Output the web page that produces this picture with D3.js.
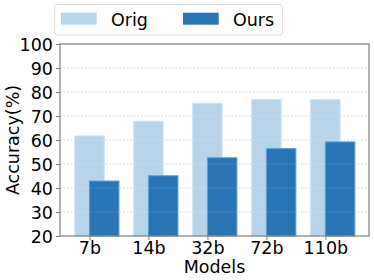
<!DOCTYPE html>
<html><head><meta charset="utf-8">
<script src="https://cdn.jsdelivr.net/npm/d3@7"></script>
<style>body{margin:0;background:#fff}svg{display:block}text{font-family:"DejaVu Sans",sans-serif;fill:#000}</style>
</head><body><svg id="c" width="374" height="280"></svg>
<script>
const categories = ["7b","14b","32b","72b","110b"];
const origValues = [61.7, 67.8, 75.3, 76.9, 76.8];
const oursValues = [42.9, 45.1, 52.6, 56.4, 59.2];
const yTicks = [20,30,40,50,60,70,80,90,100];
const seriesNames = ["Orig","Ours"];
const colors = ["#b8d4ea","#2874b5"];

const svg = d3.select("#c");
const L=60, R=369, T=44, B=236;
const x = d3.scaleLinear().domain([-0.5, 4.74]).range([L, R]);
const y = d3.scaleLinear().domain([20, 100]).range([B, T]);
const bw = 0.5;

// grid
svg.append("g").selectAll("line").data(yTicks.slice(1,-1)).join("line")
  .attr("x1",L).attr("x2",R).attr("y1",d=>y(d)).attr("y2",d=>y(d))
  .attr("stroke","#cccccc").attr("stroke-width",0.8).attr("stroke-dasharray","2,1.5");

const drawBars=(vals,off,col,edge)=>{
  svg.append("g").selectAll("rect").data(vals).join("rect")
    .attr("x",(d,i)=>x(i+off-bw/2)).attr("width",x(bw)-x(0))
    .attr("y",d=>y(d)).attr("height",d=>B-y(d))
    .attr("fill",col).attr("stroke",edge).attr("stroke-width",1);
};
drawBars(origValues,0,colors[0],"#cfe3f3");
drawBars(oursValues,0.25,colors[1],"#5e9dd3");

// grid overlay faint
svg.append("g").selectAll("line").data(yTicks.slice(1,-1)).join("line")
  .attr("x1",L).attr("x2",R).attr("y1",d=>y(d)).attr("y2",d=>y(d))
  .attr("stroke","#ffffff").attr("stroke-opacity",0.15).attr("stroke-width",0.8);

// frame
svg.append("rect").attr("x",L).attr("y",T).attr("width",R-L).attr("height",B-T)
  .attr("fill","none").attr("stroke","#7f7f7f").attr("stroke-width",1.2);

// y axis
const ya = svg.append("g").attr("transform",`translate(${L},0)`)
  .call(d3.axisLeft(y).tickValues(yTicks).tickSize(4).tickPadding(3));
ya.select(".domain").remove();
ya.selectAll("line").attr("stroke","#7f7f7f");
ya.selectAll("text").attr("font-size",17.5).attr("dy","0.36em");

// x axis
const xa = svg.append("g").attr("transform",`translate(0,${B})`)
  .call(d3.axisBottom(x).tickValues(d3.range(categories.length)).tickFormat(i=>categories[i]).tickSize(4).tickPadding(2));
xa.select(".domain").remove();
xa.selectAll("line").attr("stroke","#7f7f7f");
xa.selectAll("text").attr("font-size",17.5);

svg.append("text").attr("x",(L+R)/2).attr("y",273).attr("text-anchor","middle")
  .attr("font-size",17.5).text("Models");
svg.append("text").attr("transform",`translate(19,${(T+B)/2}) rotate(-90)`)
  .attr("text-anchor","middle").attr("font-size",17.5).text("Accuracy(%)");

// legend
const lg = svg.append("g");
lg.append("rect").attr("x",54.5).attr("y",4.5).attr("width",228).attr("height",30.5).attr("rx",3)
  .attr("fill","#fff").attr("stroke","#dddddd").attr("stroke-width",1);
const lx=[61,183];
seriesNames.forEach((n,i)=>{
  lg.append("rect").attr("x",lx[i]).attr("y",12.7).attr("width",35.7).attr("height",12).attr("fill",colors[i]);
  lg.append("text").attr("x",lx[i]+50).attr("y",26).attr("font-size",17.5).text(n);
});
</script></body></html>
